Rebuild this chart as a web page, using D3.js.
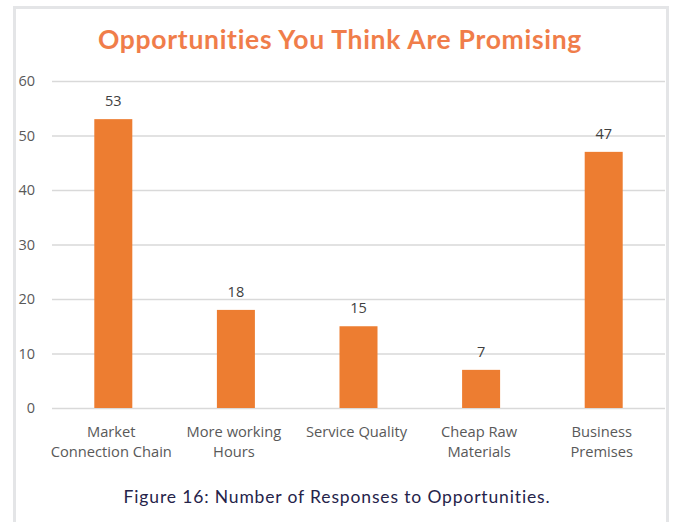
<!DOCTYPE html>
<html>
<head>
<meta charset="utf-8">
<script src="https://cdn.jsdelivr.net/npm/d3@7"></script>
<style>
  html, body { margin: 0; padding: 0; background: #fff; }
  svg { display: block; }
</style>
</head>
<body>
<svg id="chart" width="673" height="522"></svg>
<script>
// Survey responses per opportunity
const categories = [
  ["Market", "Connection Chain"],
  ["More working", "Hours"],
  ["Service Quality"],
  ["Cheap Raw", "Materials"],
  ["Business", "Premises"]
];
const responses = [53, 18, 15, 7, 47];
const yTicks = [0, 10, 20, 30, 40, 50, 60];

const titleText = "Opportunities You Think Are Promising";
const captionText = "Figure 16: Number of Responses to Opportunities.";

const svg = d3.select("#chart");
const bodyFont = "'Open Sans', 'Liberation Sans', sans-serif";

// Outer frame
svg.append("rect")
  .attr("x", 14.5).attr("y", 7.5)
  .attr("width", 653).attr("height", 530)
  .attr("fill", "#fff")
  .attr("stroke", "#e4e5e7")
  .attr("stroke-width", 3);

const plot = { left: 52, right: 665, top: 81, bottom: 408 };

const x = d3.scaleBand()
  .domain(d3.range(responses.length))
  .range([plot.left, plot.right])
  .paddingInner(0.69)
  .paddingOuter(0.345);

const y = d3.scaleLinear()
  .domain([0, 60])
  .range([plot.bottom, plot.top]);

// Gridlines and y tick labels
const yAxis = d3.axisLeft(y)
  .tickValues(yTicks)
  .tickSize(-(plot.right - plot.left))
  .tickPadding(17)
  .tickFormat(d3.format("d"));

const gy = svg.append("g")
  .attr("transform", `translate(${plot.left},0)`)
  .call(yAxis);
gy.select(".domain").remove();
gy.selectAll(".tick line")
  .attr("stroke", "#d9d9d9")
  .attr("stroke-width", 1.3);
gy.selectAll(".tick text")
  .attr("fill", "#595959")
  .style("font-family", bodyFont)
  .style("font-size", "14.5px");

// Bars
svg.append("g")
  .selectAll("rect")
  .data(responses)
  .join("rect")
  .attr("x", (d, i) => x(i))
  .attr("y", d => y(d))
  .attr("width", x.bandwidth())
  .attr("height", d => y(0) - y(d))
  .attr("fill", "#ed7d31");

// Value labels
svg.append("g")
  .selectAll("text")
  .data(responses)
  .join("text")
  .attr("x", (d, i) => x(i) + x.bandwidth() / 2)
  .attr("y", d => y(d) - 13)
  .attr("text-anchor", "middle")
  .attr("fill", "#404040")
  .style("font-family", bodyFont)
  .style("font-size", "14.5px")
  .text(d => d);

// Category labels
const cat = svg.append("g")
  .selectAll("text")
  .data(categories)
  .join("text")
  .attr("text-anchor", "middle")
  .attr("fill", "#595959")
  .style("font-family", bodyFont)
  .style("font-size", "14.7px");
cat.selectAll("tspan")
  .data((d, i) => d.map(line => ({ line, i })))
  .join("tspan")
  .attr("x", d => x(d.i) + x.bandwidth() / 2 - 2)
  .attr("y", (d, j) => 437 + j * 19.5)
  .text(d => d.line);

// Title
svg.append("text")
  .attr("x", 340)
  .attr("y", 48.5)
  .attr("text-anchor", "middle")
  .attr("fill", "#f07d4a")
  .style("font-family", "Lato, 'Open Sans', sans-serif")
  .style("font-weight", "700")
  .style("font-size", "26.5px")
  .style("letter-spacing", "0.7px")
  .text(titleText);

// Caption
svg.append("text")
  .attr("x", 337)
  .attr("y", 502.5)
  .attr("text-anchor", "middle")
  .attr("fill", "#25234a")
  .style("font-family", "Lato, 'Open Sans', sans-serif")
  .style("font-size", "17.5px")
  .style("letter-spacing", "0.85px")
  .text(captionText);
</script>
</body>
</html>
